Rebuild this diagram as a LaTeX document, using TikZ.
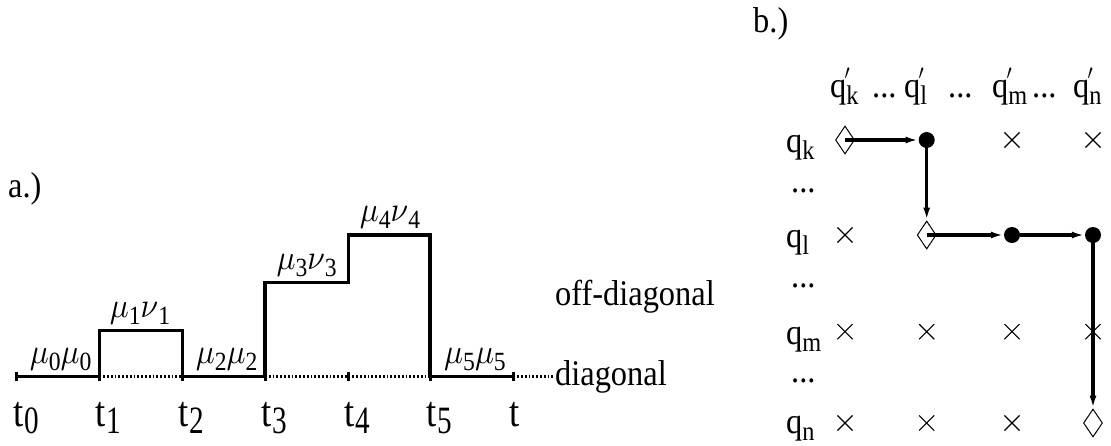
\documentclass[tikz,border=0pt]{standalone}
\usepackage{fontspec}
\setmainfont{Liberation Serif}
\usetikzlibrary{arrows.meta,shapes.geometric,shapes.misc}
\newcommand\Sx[1]{\scalebox{0.9}[1]{#1}}
\newcommand\Sb[1]{\raisebox{-0.2em}{\scalebox{0.75}{#1}}}
\newcommand\Tx[1]{\scalebox{0.85}[1]{#1}}
\newcommand\Tb[1]{\kern1pt\raisebox{-7pt}{\scalebox{0.8}[0.9]{#1}}}
\newcommand\Mu{\scalebox{3.5}{\fontsize{10}{12}\selectfont$\mu$}}
\newcommand\Nu{\scalebox{3.5}{\fontsize{10}{12}\selectfont$\nu$}}
\newcommand\Qp[1]{q\rlap{\kern-2pt\raisebox{18pt}{\fontsize{22}{22}\selectfont$\prime$}}\Sb{#1}}
\begin{document}
\begin{tikzpicture}[x=1pt,y=-1pt,
  big/.style={font=\fontsize{36}{40}\selectfont, inner sep=0pt, anchor=base west},
  tlab/.style={font=\fontsize{43}{48}\selectfont, inner sep=0pt, anchor=base west},
  mul/.style={font=\fontsize{35}{38}\selectfont, inner sep=0pt, anchor=base},
  solidax/.style={line width=3.4pt},
  dotax/.style={line width=3pt, dash pattern=on 1.8pt off 2pt},
  tick/.style={line width=3pt},
  stepline/.style={line width=3.4pt, line join=miter},
  dmd/.style={diamond, draw, line width=1pt, minimum width=19pt, minimum height=28pt, inner sep=0pt},
  bdot/.style={circle, fill, minimum size=16pt, inner sep=0pt},
  crs/.style={cross out, draw, line width=1.1pt, minimum size=14pt, inner sep=0pt},
  conn/.style={line width=3.2pt, -{Latex[length=13pt,width=7pt]}}]
\useasboundingbox (0,0) rectangle (1111,445);

% ---------- a.) ----------
\node[big] (alab) at (8,197) {\Sx{a.)}};
\coordinate (t0) at (16.7,376.7);
\coordinate (t1) at (99.3,376.7);
\coordinate (t2) at (182.3,376.7);
\coordinate (t3) at (265,376.7);
\coordinate (t4) at (348.3,376.7);
\coordinate (t5) at (430,376.7);
\coordinate (t6) at (513.3,376.7);
\coordinate (tend) at (553,376.7);

\draw[solidax] (t0) -- (t1);
\draw[dotax] (t1) -- (t2);
\draw[solidax] (t2) -- (t3);
\draw[dotax] (t3) -- (t5);
\draw[solidax] (t5) -- (t6);
\draw[dotax] (t6) -- (tend);
\foreach \t in {t0,t1,t2,t3,t4,t5,t6}
  \draw[tick] (\t) ++(0,-4.5) -- ++(0,9);

\draw[stepline] (t1) -- (99.3,330.5) -- (182.3,330.5) -- (t2);
\draw[stepline] (t3) -- (265,282.3) -- (348.3,282.3) -- (348.3,235) -- (430,235) -- (t5);

\node[mul] (m0) at (60.7,363) {\Sx{\Mu\Sb{0}\Mu\Sb{0}}};
\node[mul] (m1) at (140,317.5) {\Sx{\Mu\Sb{1}\Nu\Sb{1}}};
\node[mul] (m2) at (226.7,363) {\Sx{\Mu\Sb{2}\Mu\Sb{2}}};
\node[mul] (m3) at (306.7,269.7) {\Sx{\Mu\Sb{3}\Nu\Sb{3}}};
\node[mul] (m4) at (390,221) {\Sx{\Mu\Sb{4}\Nu\Sb{4}}};
\node[mul] (m5) at (475,363) {\Sx{\Mu\Sb{5}\Mu\Sb{5}}};

\node[tlab] (l0) at (13,426) {\Tx{t\Tb{0}}};
\node[tlab] (l1) at (95.6,426) {\Tx{t\Tb{1}}};
\node[tlab] (l2) at (178.5,426) {\Tx{t\Tb{2}}};
\node[tlab] (l3) at (261.4,426) {\Tx{t\Tb{3}}};
\node[tlab] (l4) at (344.6,426) {\Tx{t\Tb{4}}};
\node[tlab] (l5) at (426.4,426) {\Tx{t\Tb{5}}};
\node[tlab, anchor=base] (l6) at (515,426) {\Tx{t}};

\node[big] (offd) at (555,305) {\Sx{off-diagonal}};
\node[big] (diag) at (555,385) {\Sx{diagonal}};

% ---------- b.) ----------
\node[big] (blab) at (753,32) {\Sx{b.)}};

\node[big] (hk) at (830,97) {\Sx{\Qp{k}}};
\node[big] (hd1) at (872,97) {\Sx{...}};
\node[big] (hl) at (904,97) {\Sx{\Qp{l}}};
\node[big] (hd2) at (948,97) {\Sx{...}};
\node[big] (hm) at (992,97) {\Sx{\Qp{m}}};
\node[big] (hd3) at (1032,97) {\Sx{...}};
\node[big] (hn) at (1073,97) {\Sx{\Qp{n}}};

\node[big] (rk) at (786,152) {\Sx{q\Sb{k}}};
\node[big] (rd1) at (791,192) {\Sx{...}};
\node[big] (rl) at (786,247) {\Sx{q\Sb{l}}};
\node[big] (rd2) at (791,287) {\Sx{...}};
\node[big] (rm) at (786,344) {\Sx{q\Sb{m}}};
\node[big] (rd3) at (791,382) {\Sx{...}};
\node[big] (rn) at (786,433) {\Sx{q\Sb{n}}};

% row k
\node[dmd] (kk) at (845,140) {};
\node[bdot] (kl) at (926.7,140) {};
\node[crs] (km) at (1012,140) {};
\node[crs] (kn) at (1093,140) {};
% row l
\node[crs] (lk) at (845,235) {};
\node[dmd] (ll) at (926.7,235) {};
\node[bdot] (lm) at (1012,235) {};
\node[bdot] (ln) at (1093,235) {};
% row m
\node[crs] (mk) at (845,331.7) {};
\node[crs] (ml) at (926.7,331.7) {};
\node[crs] (mm) at (1012,331.7) {};
\node[crs] (mn) at (1093,331.7) {};
% row n
\node[crs] (nk) at (845,423) {};
\node[crs] (nl) at (926.7,423) {};
\node[crs] (nm) at (1012,423) {};
\node[dmd] (nn) at (1093,423) {};

\draw[conn] (kk.center) -- (kl.west);
\draw[conn] (kl.center) -- (ll.north);
\draw[conn] (ll.center) -- (lm.west);
\draw[conn] (lm.east) -- (ln.west);
\draw[conn] (ln.center) -- (nn.north);
\end{tikzpicture}
\end{document}
